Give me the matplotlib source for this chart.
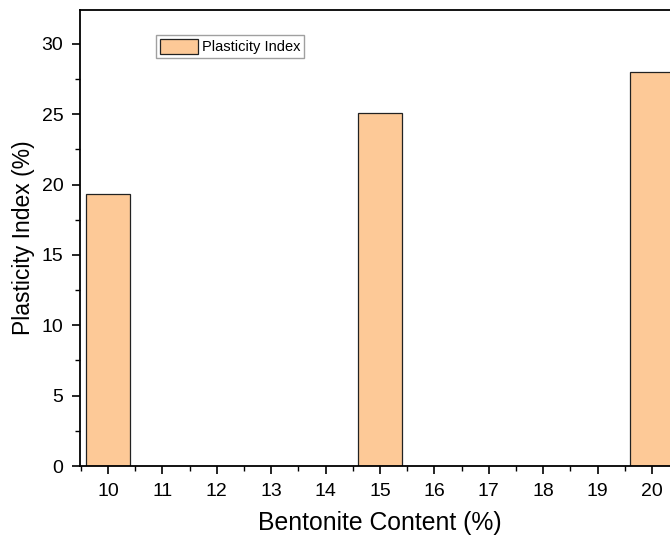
import matplotlib
matplotlib.use('Agg')
import matplotlib.pyplot as plt
from matplotlib.ticker import MultipleLocator

plt.rcParams['font.family'] = ['Liberation Sans', 'DejaVu Sans']

# Dane
bentonite = [10, 15, 20]
plasticity_index = [19.3, 25.1, 28.0]
x_ticks = list(range(10, 21))

fig = plt.figure(figsize=(6.7, 5.38), dpi=100)
ax = fig.add_axes([0.1194, 0.1338, 0.8806, 0.8476])

ax.bar(bentonite, plasticity_index, width=0.82, color='#FDC997',
       edgecolor='#222222', linewidth=0.9, label='Plasticity Index')

ax.set_xlim(9.485, 20.33)
ax.set_ylim(0, 32.4)
ax.set_xticks(x_ticks)
ax.xaxis.set_minor_locator(MultipleLocator(0.5))
ax.yaxis.set_major_locator(MultipleLocator(5))
ax.yaxis.set_minor_locator(MultipleLocator(2.5))

ax.tick_params(which='major', direction='out', length=6, width=1.2, labelsize=14, colors='black', pad=6)
ax.tick_params(which='minor', direction='out', length=3.5, width=1.0)

ax.spines['right'].set_visible(False)
for s in ['left', 'bottom', 'top']:
    ax.spines[s].set_linewidth(1.3)

ax.set_xlabel('Bentonite Content (%)', fontsize=17.8, labelpad=8)
ax.xaxis.label.set_x(0.509)  # środek opisu jak w oryginale
ax.set_ylabel('Plasticity Index (%)', fontsize=16.5, labelpad=5)

leg = ax.legend(loc='upper left', bbox_to_anchor=(0.129, 0.945), fontsize=10.5,
                frameon=True, fancybox=False, edgecolor='#888888',
                handlelength=2.6, handleheight=1.2, handletextpad=0.3,
                borderpad=0.25, borderaxespad=0)
leg.get_frame().set_linewidth(1.0)

fig.savefig('out.png', dpi=100)
